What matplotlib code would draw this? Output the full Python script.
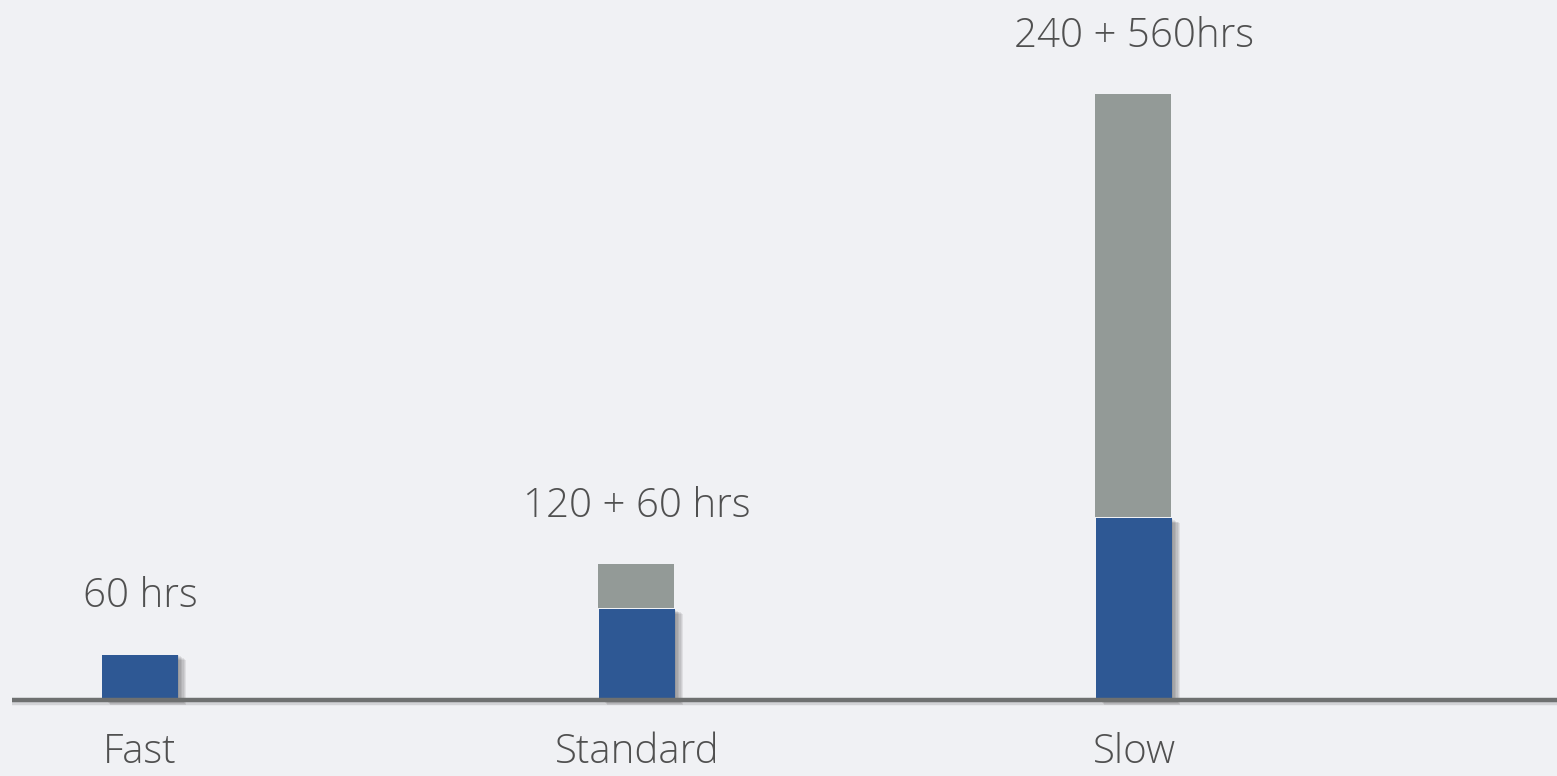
import matplotlib
matplotlib.use("Agg")
import matplotlib.pyplot as plt
import matplotlib.patheffects as pe

categories = ["Fast", "Standard", "Slow"]
base_hrs = [60, 120, 240]
extra_hrs = [0, 60, 560]
value_labels = ["60 hrs", "120 + 60 hrs", "240 + 560hrs"]

blue = "#2e5894"
grey = "#939a97"
bg = "#f0f1f4"
text_col = "#505050"

plt.rcParams["font.family"] = ["Open Sans", "DejaVu Sans"]

fig = plt.figure(figsize=(15.57, 7.76), dpi=100, facecolor=bg)
ax = fig.add_axes([0, 0, 1, 1])
ax.set_facecolor(bg)

x = list(range(len(categories)))
w = 0.153

# soft drop shadow: a stack of faint offset copies
soft = [pe.SimplePatchShadow(offset=(d, -d * 0.6), shadow_rgbFace="#000000", alpha=0.07)
        for d in (1, 2, 3, 4, 5, 6)]
bars = ax.bar(x, base_hrs, width=w, color=blue, zorder=3)
for b in bars:
    b.set_path_effects(soft + [pe.Normal()])

for xi, b, e in zip(x, base_hrs, extra_hrs):
    if e > 0:
        ax.bar(xi - 0.002, e - 2, bottom=b + 2, width=w, color=grey, zorder=3)

for xi, b, e, lab in zip(x, base_hrs, extra_hrs, value_labels):
    ax.annotate(lab, (xi, b + e), xytext=(0, 34), textcoords="offset points",
                ha="center", va="baseline", fontsize=29, color=text_col,
                fontweight=300)

# baseline
ax.plot([-0.258, 2.86], [0, 0], color="#6e7070", lw=3.2, zorder=4,
        solid_capstyle="butt",
        path_effects=[pe.SimpleLineShadow(offset=(0, -2), alpha=0.12), pe.Normal()])

for xi, c in zip(x, categories):
    ax.text(xi, -70, c, ha="center", va="center", fontsize=29, color=text_col,
            fontweight=300)

ax.set_xlim(-0.2817, 2.851)
ax.set_ylim(-100.4, 924.7)
ax.axis("off")

fig.savefig("out.png", dpi=100, facecolor=bg)
